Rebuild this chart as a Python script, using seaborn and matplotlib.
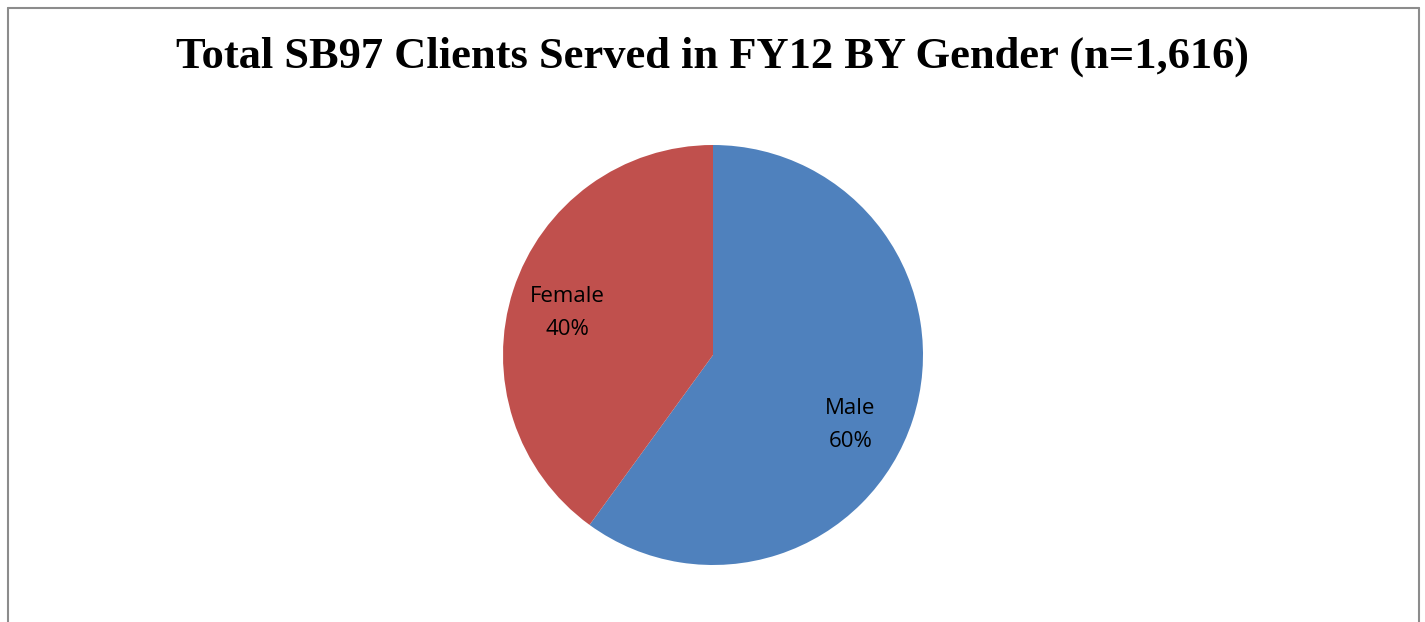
import matplotlib
matplotlib.use("Agg")
import matplotlib.pyplot as plt
import matplotlib.transforms as mtransforms
from matplotlib.lines import Line2D
import seaborn as sns

# data
genders = ["Male", "Female"]
shares = [60, 40]
colors = ["#4F81BD", "#C0504D"]
title = "Total SB97 Clients Served in FY12 BY Gender (n=1,616)"

sns.set_theme(style="white")
plt.rcParams["font.family"] = ["Open Sans", "DejaVu Sans"]

fig = plt.figure(figsize=(14.25, 6.22), dpi=100)
fig.patch.set_facecolor("white")

# chart border (bottom edge is cut off in the original)
W, H = 1425, 622
x0, x1, y0 = 7.5 / W, 1418.5 / W, 1 - 7.5 / H
for xs, ys in [([x0, x0], [-0.1, y0]), ([x0, x1], [y0, y0]), ([x1, x1], [y0, -0.1])]:
    fig.add_artist(Line2D(xs, ys, transform=fig.transFigure, color="#8c8c8c", lw=1.5))

fig.text(0.5, 1 - 57 / H, title, ha="center", va="center", color="black",
         fontsize=32, fontweight="bold", family=["Liberation Serif", "DejaVu Serif"])

ax = fig.add_axes([503 / W, 1 - 565 / H, 420 / W, 420 / H])
labels = [f"{g}\n{s}%" for g, s in zip(genders, shares)]
wedges, texts = ax.pie(shares, labels=labels, colors=colors, startangle=90,
                       counterclock=False, labeldistance=0.73,
                       wedgeprops=dict(linewidth=0),
                       textprops=dict(fontsize=16, color="black", linespacing=1.75))
# Excel-style label nudges (points)
nudges = [(-6, -16), (0, -4)]
for t, (dx, dy) in zip(texts, nudges):
    t.set_ha("center")
    t.set_va("center")
    t.set_transform(t.get_transform() + mtransforms.ScaledTranslation(dx / 72, dy / 72, fig.dpi_scale_trans))
ax.set_xlim(-1, 1)
ax.set_ylim(-1, 1)
ax.set_aspect("equal")
ax.axis("off")

fig.savefig("out.png", dpi=100, facecolor="white")
